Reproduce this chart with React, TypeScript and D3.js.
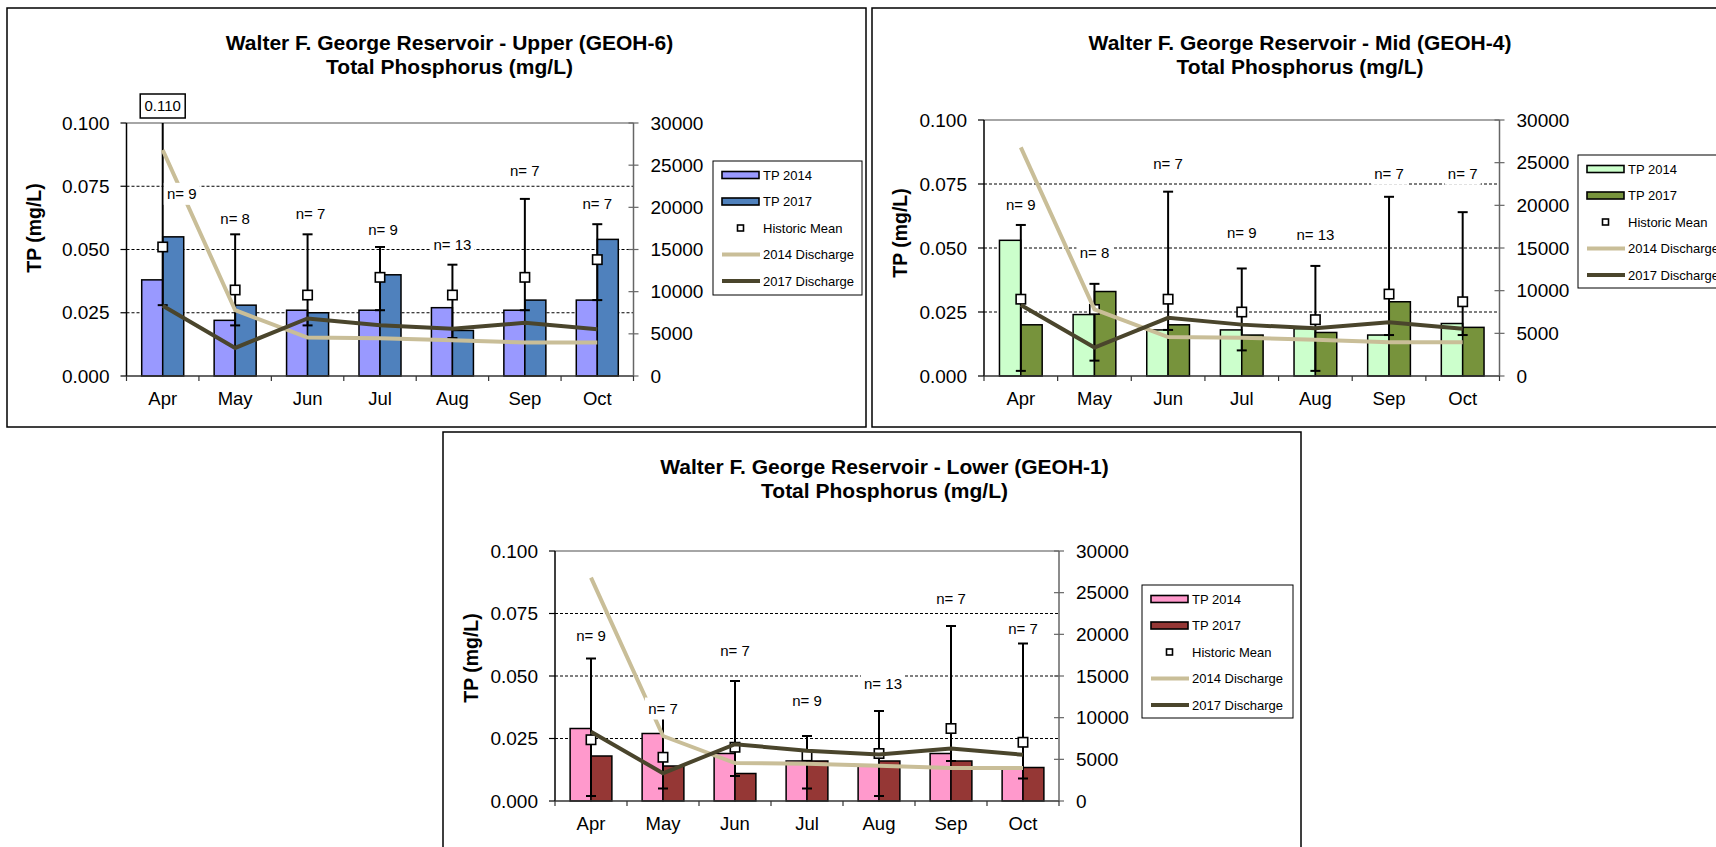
import * as d3 from "d3";

// shared categories and discharge (secondary axis, same in all three sites)
const months = ["Apr", "May", "Jun", "Jul", "Aug", "Sep", "Oct"];
const discharge2014 = [26800, 7800, 4560, 4480, 4240, 3960, 3960];
const discharge2017 = [8320, 3330, 6820, 6020, 5590, 6300, 5550];
const tpTicks = [0, 0.025, 0.05, 0.075, 0.1];
const dischargeTicks = [0, 5000, 10000, 15000, 20000, 25000, 30000];
const legendLabels = ["TP 2014", "TP 2017", "Historic Mean", "2014 Discharge", "2017 Discharge"];

// Upper (GEOH-6)
const upperTp2014 = [0.038, 0.022, 0.026, 0.026, 0.027, 0.026, 0.03];
const upperTp2017 = [0.055, 0.028, 0.025, 0.04, 0.018, 0.03, 0.054];
const upperMean = [0.051, 0.034, 0.032, 0.039, 0.032, 0.039, 0.046];
const upperMax = [0.11, 0.056, 0.056, 0.051, 0.044, 0.07, 0.06];
const upperMin = [0.028, 0.02, 0.02, 0.026, 0.015, 0.026, 0.03];
const upperN = [9, 8, 7, 9, 13, 7, 7];
const upperNAt = [0.072, 0.062, 0.064, 0.058, 0.052, 0.081, 0.068];

// Mid (GEOH-4)
const midTp2014 = [0.053, 0.024, 0.018, 0.018, 0.0185, 0.016, 0.0205];
const midTp2017 = [0.02, 0.033, 0.02, 0.016, 0.017, 0.029, 0.019];
const midMean = [0.03, 0.026, 0.03, 0.025, 0.022, 0.032, 0.029];
const midMax = [0.059, 0.036, 0.072, 0.042, 0.043, 0.07, 0.064];
const midMin = [0.002, 0.006, 0.018, 0.01, 0.002, 0.016, 0.016];
const midN = [9, 8, 7, 9, 13, 7, 7];
const midNAt = [0.067, 0.048, 0.083, 0.056, 0.055, 0.079, 0.079];

// Lower (GEOH-1)
const lowerTp2014 = [0.029, 0.027, 0.019, 0.016, 0.014, 0.019, 0.0134];
const lowerTp2017 = [0.018, 0.014, 0.011, 0.016, 0.016, 0.016, 0.0134];
const lowerMean = [0.0245, 0.0175, 0.0215, 0.018, 0.019, 0.029, 0.0235];
const lowerMax = [0.057, 0.036, 0.048, 0.026, 0.036, 0.07, 0.063];
const lowerMin = [0.002, 0.005, 0.01, 0.005, 0.002, 0.016, 0.009];
const lowerN = [9, 7, 7, 9, 13, 7, 7];
const lowerNAt = [0.066, 0.037, 0.06, 0.04, 0.047, 0.081, 0.069];

const font = "'Liberation Sans', Arial, Helvetica, sans-serif";
const tanColor = "#C9BE98";
const darkColor = "#4A452C";

type Box = { x: number; y: number; w: number; h: number };
type Panel = {
  title: string;
  tp2014: number[];
  tp2017: number[];
  mean: number[];
  max: number[];
  min: number[];
  n: number[];
  nAt: number[];
  nShift: number[];
  colors: [string, string];
  frame: Box;
  plot: { left: number; right: number; top: number; bottom: number };
  titleX: number;
  titleY: number;
  yLabel: { x: number; y: number };
  legend: Box;
};

const panels: Panel[] = [
  {
    title: "Walter F. George Reservoir - Upper (GEOH-6)",
    tp2014: upperTp2014, tp2017: upperTp2017, mean: upperMean, max: upperMax, min: upperMin,
    n: upperN, nAt: upperNAt, nShift: [19, 0, 3, 3, 0, 0, 0],
    colors: ["#9999FF", "#4F81BD"],
    frame: { x: 7, y: 8, w: 859, h: 419 },
    plot: { left: 126.5, right: 633.5, top: 123, bottom: 376 },
    titleX: 449.5, titleY: 50,
    yLabel: { x: 34, y: 228 },
    legend: { x: 713, y: 161, w: 149, h: 134 },
  },
  {
    title: "Walter F. George Reservoir - Mid (GEOH-4)",
    tp2014: midTp2014, tp2017: midTp2017, mean: midMean, max: midMax, min: midMin,
    n: midN, nAt: midNAt, nShift: [0, 0, 0, 0, 0, 0, 0],
    colors: ["#CCFFCC", "#77933C"],
    frame: { x: 872, y: 8, w: 900, h: 419 },
    plot: { left: 984, right: 1499.5, top: 120, bottom: 376 },
    titleX: 1300, titleY: 50,
    yLabel: { x: 900, y: 233 },
    legend: { x: 1578, y: 155, w: 152, h: 133 },
  },
  {
    title: "Walter F. George Reservoir - Lower (GEOH-1)",
    tp2014: lowerTp2014, tp2017: lowerTp2017, mean: lowerMean, max: lowerMax, min: lowerMin,
    n: lowerN, nAt: lowerNAt, nShift: [0, 0, 0, 0, 4, 0, 0],
    colors: ["#FF99CC", "#953735"],
    frame: { x: 443, y: 432, w: 858, h: 450 },
    plot: { left: 555, right: 1059, top: 551, bottom: 801 },
    titleX: 884.5, titleY: 474,
    yLabel: { x: 471, y: 658 },
    legend: { x: 1142, y: 585, w: 151, h: 133 },
  },
];

function Chart({ p }: { p: Panel }) {
  const { left, right, top, bottom } = p.plot;
  const x = d3.scaleBand<string>().domain(months).range([left, right]).paddingInner(0.42).paddingOuter(0.21);
  const xs = d3.scaleBand<string>().domain(["2014", "2017"]).range([0, x.bandwidth()]);
  const y = d3.scaleLinear().domain([0, 0.1]).range([bottom, top]);
  const y2 = d3.scaleLinear().domain([0, 30000]).range([bottom, top]);
  const cx = (m: string) => (x(m) as number) + x.bandwidth() / 2;
  const line = d3.line<number>().x((_, i) => cx(months[i])).y(d => y2(d));
  const fmt = d3.format(".3f");
  const bounds = months.map((_, i) => left + i * x.step()).concat([right]);
  const series = [p.tp2014, p.tp2017];
  const lg = p.legend;
  const rowY = (i: number) => lg.y + 14 + i * 26.5;

  return (
    <g fontFamily={font}>
      <rect x={p.frame.x} y={p.frame.y} width={p.frame.w} height={p.frame.h} fill="#fff" stroke="#000" strokeWidth={1.5} />
      <text x={p.titleX} y={p.titleY} textAnchor="middle" fontSize={21} fontWeight="bold">{p.title}</text>
      <text x={p.titleX} y={p.titleY + 24} textAnchor="middle" fontSize={21} fontWeight="bold">Total Phosphorus (mg/L)</text>

      {/* grid */}
      {tpTicks.filter(t => t > 0 && t < 0.1).map(t => (
        <line key={t} x1={left} x2={right} y1={y(t)} y2={y(t)} stroke="#000" strokeWidth={1} strokeDasharray="3,2" />
      ))}
      <line x1={left} x2={right} y1={top} y2={top} stroke="#888" strokeWidth={1.5} />

      {/* bars */}
      {series.map((vals, s) =>
        vals.map((v, i) => (
          <rect key={`${s}-${i}`} x={(x(months[i]) as number) + (xs(s === 0 ? "2014" : "2017") as number)} y={y(v)}
            width={xs.bandwidth()} height={bottom - y(v)} fill={p.colors[s]} stroke="#000" strokeWidth={1.5} />
        ))
      )}

      {/* range bars */}
      {months.map((m, i) => {
        const clipped = p.max[i] > 0.1;
        const hi = y(Math.min(p.max[i], 0.1));
        const lo = y(p.min[i]);
        return (
          <g key={m} stroke="#000" strokeWidth={2}>
            <line x1={cx(m)} x2={cx(m)} y1={lo} y2={hi} />
            {!clipped && <line x1={cx(m) - 5} x2={cx(m) + 5} y1={hi} y2={hi} />}
            <line x1={cx(m) - 5} x2={cx(m) + 5} y1={lo} y2={lo} />
          </g>
        );
      })}
      {months.map((m, i) => (
        <rect key={m} x={cx(m) - 4.7} y={y(p.mean[i]) - 4.7} width={9.4} height={9.4} fill="#fff" stroke="#000" strokeWidth={1.6} />
      ))}

      {/* discharge lines */}
      <path d={line(discharge2014) ?? ""} fill="none" stroke={tanColor} strokeWidth={4} />
      <path d={line(discharge2017) ?? ""} fill="none" stroke={darkColor} strokeWidth={4} />

      {/* axes */}
      <line x1={left} x2={left} y1={top} y2={bottom} stroke="#000" strokeWidth={1.5} />
      <line x1={right} x2={right} y1={top} y2={bottom} stroke="#666" strokeWidth={1.5} />
      <line x1={left} x2={right} y1={bottom} y2={bottom} stroke="#333" strokeWidth={1.5} />
      {tpTicks.map(t => (
        <g key={t}>
          <line x1={left - 6} x2={left} y1={y(t)} y2={y(t)} stroke="#000" strokeWidth={1.2} />
          <text x={left - 17} y={y(t)} dy="0.35em" textAnchor="end" fontSize={19}>{fmt(t)}</text>
        </g>
      ))}
      {dischargeTicks.map(t => (
        <g key={t}>
          <line x1={right - 5} x2={right + 5} y1={y2(t)} y2={y2(t)} stroke="#666" strokeWidth={1.2} />
          <text x={right + 17} y={y2(t)} dy="0.35em" fontSize={19}>{t}</text>
        </g>
      ))}
      {bounds.map((b, i) => (
        <line key={i} x1={b} x2={b} y1={bottom} y2={bottom + 5} stroke="#333" strokeWidth={1.2} />
      ))}
      {months.map(m => (
        <text key={m} x={cx(m)} y={bottom + 29} textAnchor="middle" fontSize={18.5}>{m}</text>
      ))}
      <text transform={`translate(${p.yLabel.x},${p.yLabel.y}) rotate(-90)`} dy="0.35em" textAnchor="middle" fontSize={19.5} fontWeight="bold">TP (mg/L)</text>

      {/* n labels */}
      {months.map((m, i) => {
        const w = p.n[i] >= 10 ? 44 : 36;
        const lx = cx(m) + p.nShift[i];
        return (
          <g key={m}>
            <rect x={lx - w / 2} y={y(p.nAt[i]) - 11} width={w} height={22} fill="#fff" />
            <text x={lx} y={y(p.nAt[i])} dy="0.35em" textAnchor="middle" fontSize={15}>{`n= ${p.n[i]}`}</text>
          </g>
        );
      })}

      {/* value above the clipped range bar */}
      {months.map((m, i) => p.max[i] > 0.1 && (
        <g key={m}>
          <rect x={cx(m) - 22.5} y={top - 29} width={45} height={24} fill="#fff" stroke="#000" strokeWidth={1.5} />
          <text x={cx(m)} y={top - 17} dy="0.35em" textAnchor="middle" fontSize={15}>{fmt(p.max[i])}</text>
        </g>
      ))}

      {/* legend */}
      <rect x={lg.x} y={lg.y} width={lg.w} height={lg.h} fill="#fff" stroke="#000" strokeWidth={1} />
      {[0, 1].map(s => (
        <rect key={s} x={lg.x + 9} y={rowY(s) - 3.5} width={37} height={7} fill={p.colors[s]} stroke="#000" strokeWidth={1.6} />
      ))}
      <rect x={lg.x + 24.5} y={rowY(2) - 3} width={6} height={6} fill="#fff" stroke="#000" strokeWidth={1.6} />
      <line x1={lg.x + 9} x2={lg.x + 47} y1={rowY(3)} y2={rowY(3)} stroke={tanColor} strokeWidth={4} />
      <line x1={lg.x + 9} x2={lg.x + 47} y1={rowY(4)} y2={rowY(4)} stroke={darkColor} strokeWidth={4} />
      {legendLabels.map(l => (
        <text key={l} x={lg.x + 50} y={0} dy="0.35em" fontSize={13}
          transform={`translate(0,${rowY(legendLabels.indexOf(l))})`}>{l}</text>
      ))}
    </g>
  );
}

export default function App() {
  return (
    <svg width={1716} height={847} style={{ position: "absolute", left: 0, top: 0, background: "#fff" }}>
      {panels.map(p => (
        <Chart key={p.title} p={p} />
      ))}
    </svg>
  );
}
